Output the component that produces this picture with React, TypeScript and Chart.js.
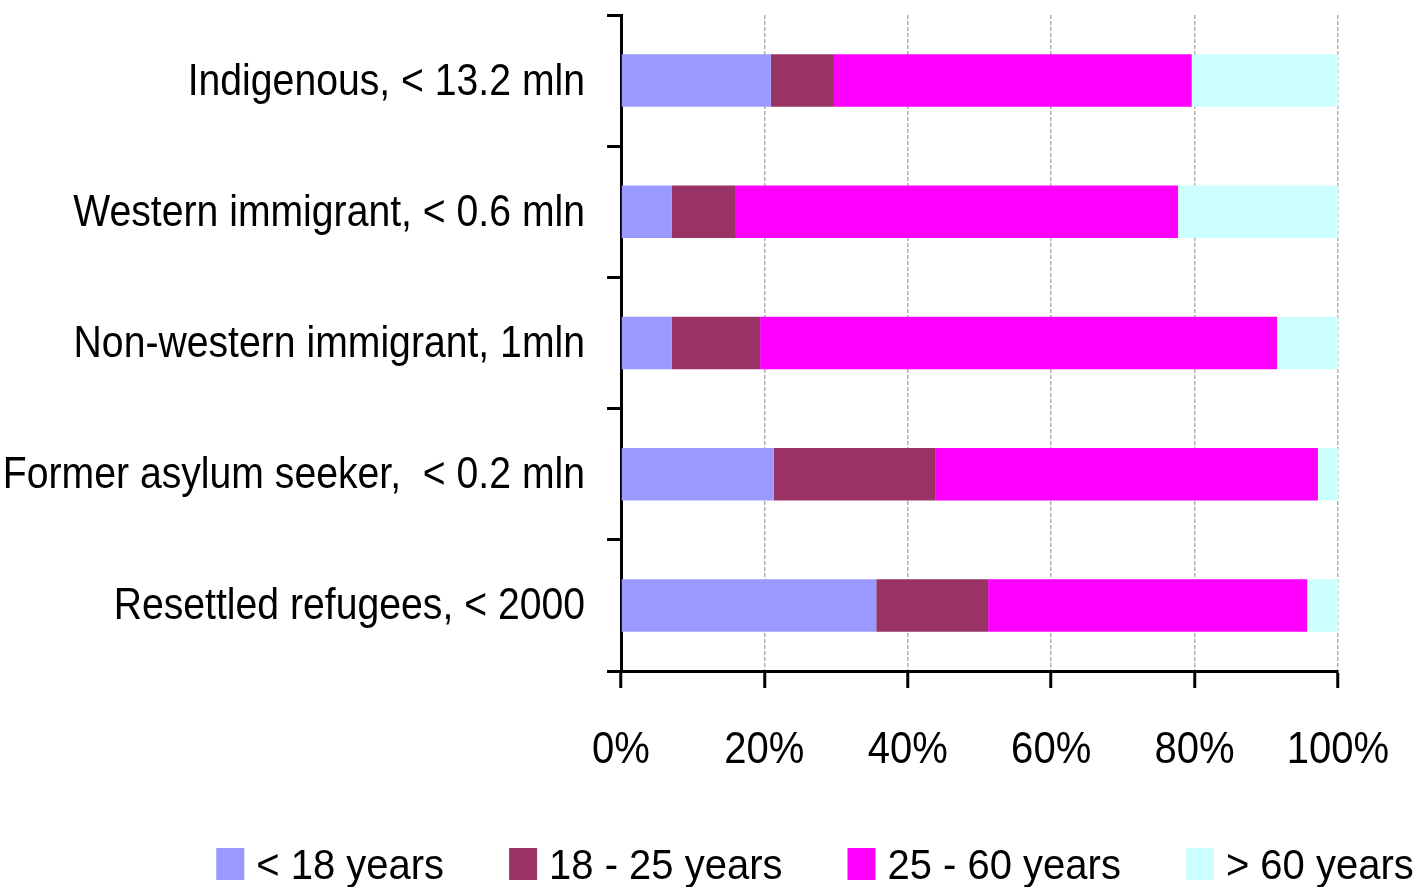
import React, { useEffect, useRef } from "react";
import { Chart, registerables } from "chart.js";

Chart.register(...registerables);

const categories = [
  "Indigenous, < 13.2 mln",
  "Western immigrant, < 0.6 mln",
  "Non-western immigrant, 1mln",
  "Former asylum seeker,  < 0.2 mln",
  "Resettled refugees, < 2000",
];

const seriesNames = ["< 18 years", "18 - 25 years", "25 - 60 years", "> 60 years"];
const seriesColors = ["#9999FF", "#993366", "#FF00FF", "#CCFFFF"];

const under18 = [20.9, 7.1, 7.1, 21.3, 35.6];
const age18to25 = [8.8, 8.8, 12.3, 22.6, 15.6];
const age25to60 = [49.9, 61.8, 72.1, 53.3, 44.5];
const over60 = [20.4, 22.3, 8.5, 2.8, 4.3];

const xTicks = [0, 20, 40, 60, 80, 100];

const FONT = '"Liberation Sans", Arial, sans-serif';

function narrowText(ctx: CanvasRenderingContext2D, text: string, x: number, y: number, sx: number) {
  ctx.save();
  ctx.translate(x, y);
  ctx.scale(sx, 1);
  ctx.fillText(text, 0, 0);
  ctx.restore();
}

const labelPlugin = {
  id: "narrowLabels",
  afterDraw(chart: any) {
    const ctx = chart.ctx as CanvasRenderingContext2D;
    const ys = chart.scales.y;
    const xs = chart.scales.x;
    ctx.save();
    ctx.fillStyle = "#000";
    ctx.textBaseline = "alphabetic";

    // category labels
    ctx.font = `44px ${FONT}`;
    ctx.textAlign = "right";
    const yTickLen = ys.options.grid.tickLength;
    chart.data.labels.forEach((lab: string, i: number) => {
      const py = ys.getPixelForTick(i);
      narrowText(ctx, lab, ys.right - yTickLen - 22, py + 14, 0.89);
    });

    // value labels
    ctx.font = `45px ${FONT}`;
    ctx.textAlign = "center";
    xs.ticks.forEach((t: any) => {
      const px = xs.getPixelForValue(t.value);
      narrowText(ctx, `${t.value}%`, px, xs.top + 92, 0.89);
    });

    // legend
    ctx.font = `43px ${FONT}`;
    ctx.textAlign = "left";
    const sx = 0.93;
    const boxW = 28;
    const boxH = 32;
    const textGap = 12;
    const itemGap = 65;
    const ds = chart.data.datasets;
    const widths = ds.map((d: any) => boxW + textGap + ctx.measureText(d.label).width * sx);
    const total = widths.reduce((a: number, b: number) => a + b, 0) + itemGap * (ds.length - 1);
    let x = 815 - total / 2;
    const top = 848;
    ds.forEach((d: any, i: number) => {
      ctx.fillStyle = d.backgroundColor;
      ctx.fillRect(x, top, boxW, boxH);
      ctx.fillStyle = "#000";
      narrowText(ctx, d.label, x + boxW + textGap, top + 31, sx);
      x += widths[i] + itemGap;
    });
    ctx.restore();
  },
};

export default function App() {
  const ref = useRef<HTMLCanvasElement>(null);
  useEffect(() => {
    if (!ref.current) return;
    const values = [under18, age18to25, age25to60, over60];
    const chart = new Chart(ref.current, {
      type: "bar",
      data: {
        labels: categories,
        datasets: seriesNames.map((name, i) => ({
          label: name,
          data: values[i],
          backgroundColor: seriesColors[i],
          borderWidth: 0,
          barPercentage: 0.4,
          categoryPercentage: 1,
        })),
      },
      plugins: [labelPlugin],
      options: {
        indexAxis: "y",
        responsive: false,
        animation: false,
        layout: { padding: { top: 15, right: 79, bottom: 100, left: 0 } },
        plugins: {
          legend: { display: false },
          tooltip: { enabled: false },
        },
        scales: {
          x: {
            stacked: true,
            min: 0,
            max: 100,
            afterBuildTicks: (scale: any) => {
              scale.ticks = xTicks.map((v) => ({ value: v }));
            },
            afterFit: (scale: any) => {
              scale.height = 887 - 100 - 671;
            },
            ticks: { display: false },
            grid: {
              color: "#b0b0b0",
              lineWidth: 1.5,
              tickColor: "#000",
              tickWidth: 3,
              tickLength: 17,
              tickBorderDash: [],
            },
            border: { display: true, color: "#000", width: 3, dash: [4, 2] },
          },
          y: {
            stacked: true,
            afterFit: (scale: any) => {
              scale.width = 621;
            },
            ticks: { display: false },
            grid: {
              offset: true,
              drawOnChartArea: false,
              tickColor: "#000",
              tickWidth: 3,
              tickLength: 14,
            },
            border: { display: true, color: "#000", width: 3 },
          },
        },
      },
    });
    return () => chart.destroy();
  }, []);
  return (
    <div style={{ position: "fixed", left: 0, top: 0, width: 1417, height: 887, background: "#fff" }}>
      <canvas ref={ref} width={1417} height={887} style={{ display: "block" }} />
    </div>
  );
}
